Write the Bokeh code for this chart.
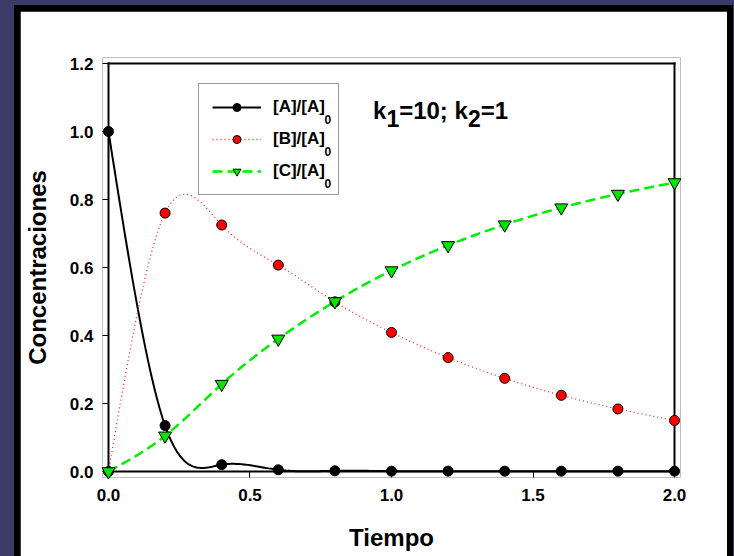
import numpy as np
from bokeh.plotting import figure
from bokeh.models import (LinearAxis, FixedTicker, PrintfTickFormatter, Range1d,
                          Legend, LegendItem, Label)
from bokeh.embed import file_html
from bokeh.resources import INLINE

# ---------------- data ----------------
tiempo = [0.0, 0.2, 0.4, 0.6, 0.8, 1.0, 1.2, 1.4, 1.6, 1.8, 2.0]
conc_A = [1.0, 0.135, 0.02, 0.005, 0.002, 0.001, 0.001, 0.001, 0.001, 0.001, 0.001]
conc_B = [0.0, 0.76, 0.725, 0.607, 0.499, 0.409, 0.335, 0.274, 0.224, 0.184, 0.150]
conc_C = [0.0, 0.105, 0.257, 0.390, 0.500, 0.591, 0.665, 0.726, 0.776, 0.816, 0.850]
x_ticks = [0.0, 0.5, 1.0, 1.5, 2.0]
y_ticks = [0.0, 0.2, 0.4, 0.6, 0.8, 1.0, 1.2]
labels = ["[A]/[A]", "[B]/[A]", "[C]/[A]"]
label_sub = "0"

X_MIN, X_MAX = 0.0, 2.0
Y_MIN, Y_MAX = 0.0, 1.2

FONT = "Liberation Sans"


def natural_spline(x, y, n=400):
    """Smooth curve through the data points (natural cubic spline), as drawn by the original."""
    x = np.asarray(x, float)
    y = np.asarray(y, float)
    N = len(x)
    h = np.diff(x)
    A = np.zeros((N, N))
    r = np.zeros(N)
    A[0, 0] = 1.0
    A[-1, -1] = 1.0
    for i in range(1, N - 1):
        A[i, i - 1] = h[i - 1]
        A[i, i] = 2 * (h[i - 1] + h[i])
        A[i, i + 1] = h[i]
        r[i] = 6 * ((y[i + 1] - y[i]) / h[i] - (y[i] - y[i - 1]) / h[i - 1])
    M = np.linalg.solve(A, r)
    xs = np.linspace(x[0], x[-1], n)
    k = np.clip(np.searchsorted(x, xs) - 1, 0, N - 2)
    x0, x1 = x[k], x[k + 1]
    hk = x1 - x0
    ys = (M[k] * (x1 - xs) ** 3 / (6 * hk) + M[k + 1] * (xs - x0) ** 3 / (6 * hk)
          + (y[k] / hk - M[k] * hk / 6) * (x1 - xs)
          + (y[k + 1] / hk - M[k + 1] * hk / 6) * (xs - x0))
    return xs, ys


# ---------------- layout (pixels) ----------------
W, H = 707, 545
BOX_W, BOX_H = 567, 408      # axes box size in px
PAD = 6                      # room so edge markers are not clipped
px_x = BOX_W / (X_MAX - X_MIN)
px_y = BOX_H / (Y_MAX - Y_MIN)
padx = PAD / px_x
pady = PAD / px_y

p = figure(width=W, height=H,
           x_range=Range1d(X_MIN - padx, X_MAX + padx),
           y_range=Range1d(Y_MIN - pady, Y_MAX + pady),
           x_axis_location=None, y_axis_location=None,
           output_backend="svg", toolbar_location=None,
           min_border_left=81, min_border_right=47,
           min_border_top=46, min_border_bottom=79)
p.background_fill_color = "white"
p.border_fill_color = "white"
p.outline_line_color = None
p.xgrid.visible = False
p.ygrid.visible = False


def style_text_axis(ax, standoff, label_standoff):
    ax.axis_line_color = None
    ax.major_tick_line_color = "black"
    ax.major_tick_line_width = 1
    ax.minor_tick_line_color = None
    ax.major_tick_out = 0
    ax.major_tick_in = PAD          # from frame edge up to the axis line
    ax.major_label_text_font = FONT
    ax.major_label_text_font_style = "bold"
    ax.major_label_text_font_size = "17px"
    ax.major_label_text_color = "black"
    ax.major_label_standoff = standoff
    ax.axis_label_text_font = FONT
    ax.axis_label_text_font_style = "bold"
    ax.axis_label_text_font_size = "24px"
    ax.axis_label_text_color = "black"
    ax.axis_label_standoff = label_standoff


def style_line_axis(ax):
    ax.axis_line_width = 2
    ax.axis_line_color = "black"
    ax.axis_line_cap = "square"
    ax.major_tick_line_color = None
    ax.minor_tick_line_color = None
    ax.major_tick_in = 0
    ax.major_tick_out = 0


# tick marks, tick labels and axis titles
xa = LinearAxis(ticker=FixedTicker(ticks=x_ticks),
                formatter=PrintfTickFormatter(format="%.1f"),
                axis_label="Tiempo")
ya = LinearAxis(ticker=FixedTicker(ticks=y_ticks),
                formatter=PrintfTickFormatter(format="%.1f"),
                axis_label="Concentraciones")
style_text_axis(xa, 11, 20)
style_text_axis(ya, 9, 16)
p.add_layout(xa, "below")
p.add_layout(ya, "left")

# the four lines of the axes box, fixed at the data box edges
box_axes = [
    (LinearAxis(fixed_location=Y_MIN, bounds=(X_MIN, X_MAX), ticker=FixedTicker(ticks=[])), "above"),
    (LinearAxis(fixed_location=Y_MAX, bounds=(X_MIN, X_MAX), ticker=FixedTicker(ticks=[])), "above"),
    (LinearAxis(fixed_location=X_MIN, bounds=(Y_MIN, Y_MAX), ticker=FixedTicker(ticks=[])), "right"),
    (LinearAxis(fixed_location=X_MAX, bounds=(Y_MIN, Y_MAX), ticker=FixedTicker(ticks=[])), "right"),
]
for ax, side in box_axes:
    style_line_axis(ax)
    p.add_layout(ax, side)

# ---------------- series ----------------
xa_s, ya_s = natural_spline(tiempo, conc_A)
xb_s, yb_s = natural_spline(tiempo, conc_B)
xc_s, yc_s = natural_spline(tiempo, conc_C)

lA = p.line(xa_s, ya_s, line_color="black", line_width=2)
lB = p.line(xb_s, yb_s, line_color="#ff2020", line_width=1.3, line_dash="1 3")
lC = p.line(xc_s, yc_s, line_color="#00ee00", line_width=2.5, line_dash="10 5")

mA = p.scatter(tiempo, conc_A, marker="circle", size=10,
               fill_color="black", line_color="black", line_width=1)
mB = p.scatter(tiempo, conc_B, marker="circle", size=10,
               fill_color="#ff0000", line_color="black", line_width=1)
mC = p.scatter(tiempo, conc_C, marker="inverted_triangle", size=13,
               fill_color="#00e600", line_color="black", line_width=1)
for m in (mA, mB, mC):
    m.level = "annotation"

# ---------------- legend ----------------
LEG_LEFT, LEG_TOP = 197, 85          # page px of the legend box
LEG_PAD, LEG_GW, LEG_GH, LEG_SO, LEG_SP = 13, 49, 20, 12, 12
LEG_FS = 17
FRAME_LEFT = 107 - PAD               # page px
FRAME_BOTTOM = 471 + PAD
leg_h = 2 * LEG_PAD + 3 * LEG_GH + 2 * LEG_SP

legend = Legend(items=[LegendItem(label=labels[0], renderers=[lA, mA]),
                       LegendItem(label=labels[1], renderers=[lB, mB]),
                       LegendItem(label=labels[2], renderers=[lC, mC])],
                location=(LEG_LEFT - FRAME_LEFT, FRAME_BOTTOM - (LEG_TOP + leg_h)),
                glyph_width=LEG_GW, glyph_height=LEG_GH, label_standoff=LEG_SO,
                spacing=LEG_SP, padding=LEG_PAD,
                border_line_color="#333333", border_line_width=1,
                background_fill_color=None,
                label_text_font=FONT, label_text_font_style="bold",
                label_text_font_size=f"{LEG_FS}px", label_text_color="black")
p.add_layout(legend, "center")


def page_to_data(px, py):
    return X_MIN + (px - 107) / px_x, Y_MIN + (471 - py) / px_y


# subscript "0" after each legend label
label_w = 3.054 * LEG_FS             # width of "[A]/[A]" in bold
for i in range(3):
    row_mid = LEG_TOP + LEG_PAD + LEG_GH / 2 + i * (LEG_GH + LEG_SP)
    sx, sy = page_to_data(LEG_LEFT + LEG_PAD + LEG_GW + LEG_SO + label_w + 0.5, row_mid + 11)
    p.add_layout(Label(x=sx, y=sy, text=label_sub, text_font=FONT, text_font_style="bold",
                       text_font_size="12px", text_color="black",
                       text_baseline="alphabetic", text_align="left"))

# ---------------- k1=10; k2=1 annotation ----------------
kx, ky = page_to_data(372, 110)
main_size, sub_size = 24, 23
pieces = [("k", 0.556, False), ("1", 0.556, True), ("=10; k", 2.863, False),
          ("2", 0.556, True), ("=1", 1.14, False)]
off = 0.0
for txt, em, sub in pieces:
    fs = sub_size if sub else main_size
    p.add_layout(Label(x=kx, y=ky, x_offset=off, y_offset=-8 if sub else 0,
                       text=txt, text_font=FONT, text_font_style="bold",
                       text_font_size=f"{fs}px", text_color="black",
                       text_baseline="alphabetic", text_align="left"))
    off += em * fs

html = file_html(p, INLINE, title="Concentraciones vs Tiempo")
css = ("<style>html{background:#3c3b66;overflow:hidden;}"
       "body{margin:5px 1px 0 14px;padding:6px 6px 0 6px;background:#000;overflow:hidden;}</style>")
html = html.replace("</head>", css + "</head>", 1)
open("out.html", "w").write(html)
